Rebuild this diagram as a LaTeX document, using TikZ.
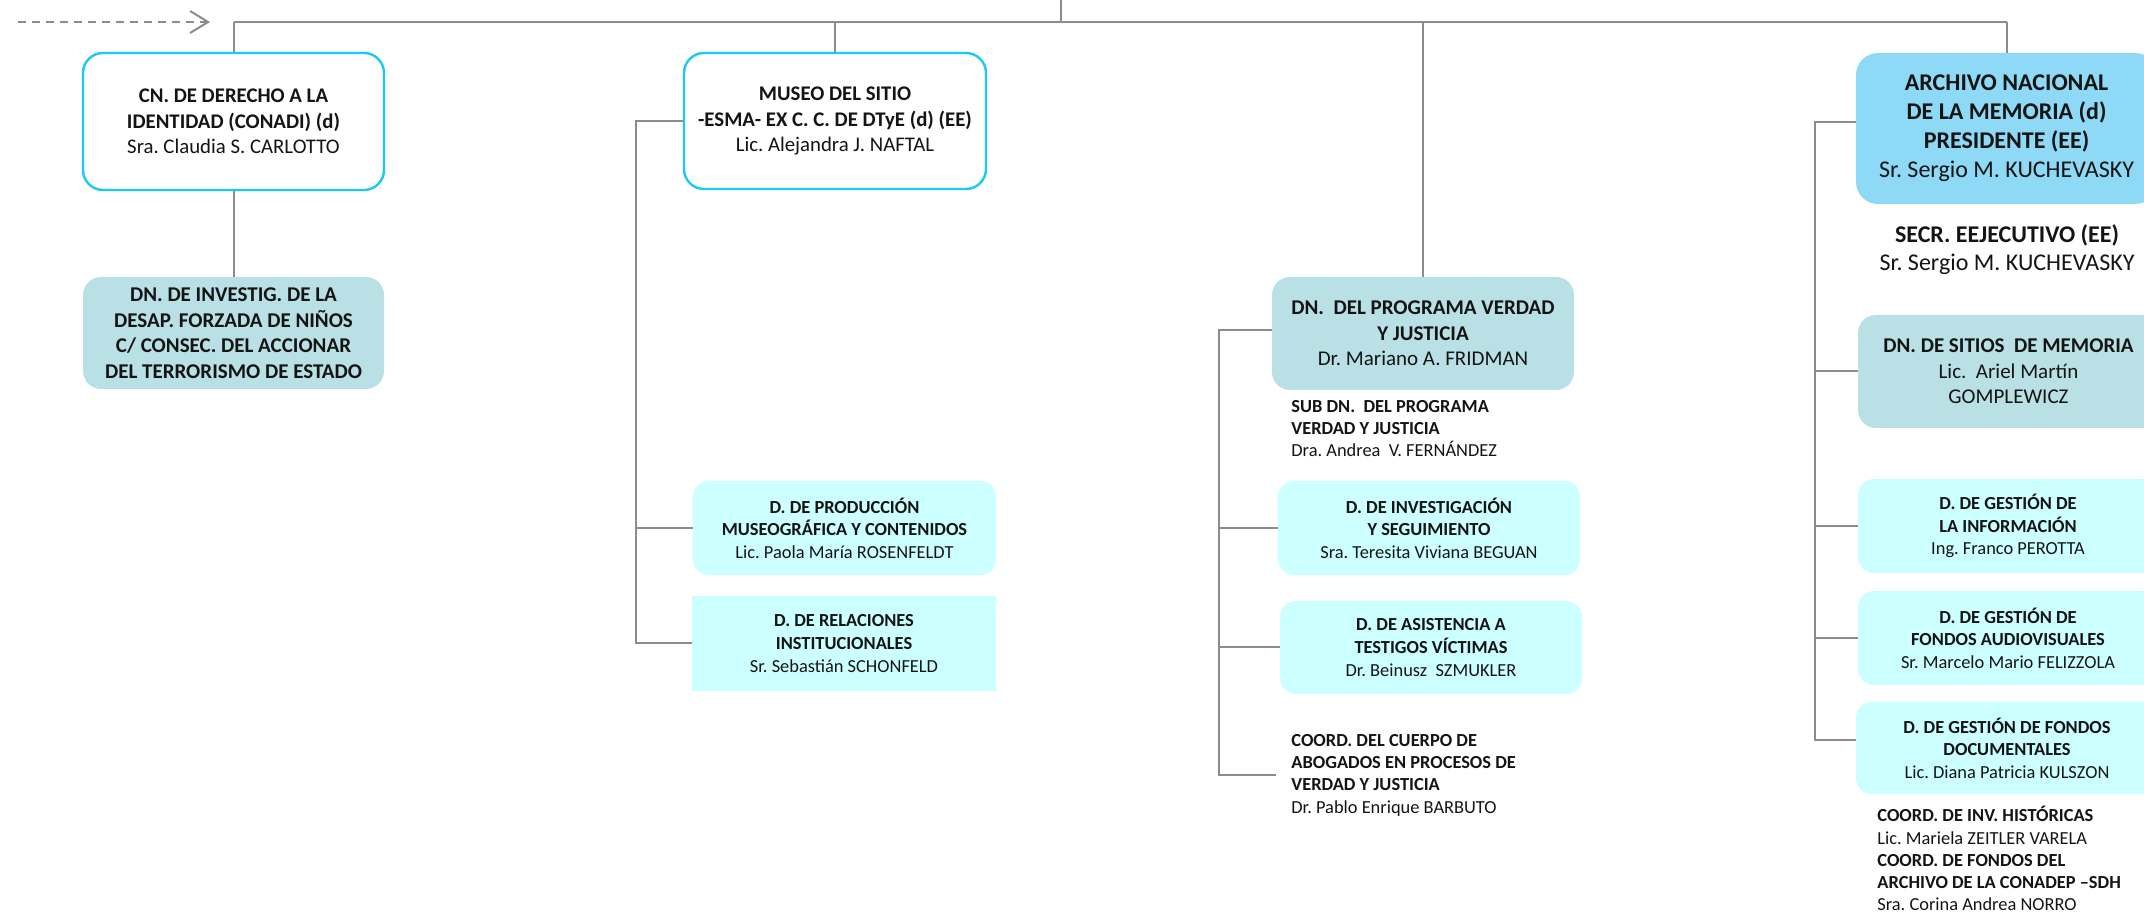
\documentclass[tikz,border=0pt]{standalone}
\usepackage{fontspec}
\setmainfont{Carlito}
\usetikzlibrary{arrows.meta,calc}
\definecolor{cyanborder}{HTML}{1CC8F4}
\definecolor{tealfill}{HTML}{B9E0E4}
\definecolor{lightfill}{HTML}{CCFFFF}
\definecolor{bluefill}{HTML}{8ED9F6}
\definecolor{linegray}{HTML}{8C8C8C}
\definecolor{txt}{HTML}{141414}
\frenchspacing
\begin{document}
\begin{tikzpicture}[x=0.5pt,y=-0.5pt,
  sz/.style 2 args={minimum width=#1*0.5pt, minimum height=#2*0.5pt},
  anybox/.style={inner sep=0pt, align=center, text=txt},
  bigbox/.style={anybox, draw=cyanborder, line width=1.2pt, fill=white, rounded corners=10pt, font=\fontsize{10.4}{12.8}\selectfont},
  tealbox/.style={anybox, fill=tealfill, rounded corners=9pt, font=\fontsize{10.5}{12.8}\selectfont},
  lightbox/.style={anybox, fill=lightfill, rounded corners=8pt, font=\fontsize{9.2}{11.3}\selectfont},
  lightsq/.style={anybox, fill=lightfill, font=\fontsize{9.2}{11.3}\selectfont},
  bluebox/.style={anybox, fill=bluefill, rounded corners=11pt, font=\fontsize{12}{14.5}\selectfont},
  freetext/.style={inner ysep=0pt, inner xsep=0pt, align=left, text=txt, font=\fontsize{9.2}{11.1}\selectfont},
  conn/.style={draw=linegray, line width=1pt},
  dasharrow/.style={draw=linegray, line width=1pt, dash pattern=on 4pt off 3pt, -{Straight Barb[length=9pt,width=11pt,line width=1pt]}}
]
\useasboundingbox (0,0) rectangle (2144,913);

% ---- column 1
\node[bigbox, sz={301}{137}] (conadi) at (233.5,121.5)
  {\textbf{CN. DE DERECHO A LA}\\\textbf{IDENTIDAD (CONADI) (d)}\\Sra. Claudia S. CARLOTTO};
\node[tealbox, sz={301}{112}] (desap) at (233.5,333)
  {\textbf{DN. DE INVESTIG. DE LA}\\\textbf{DESAP. FORZADA DE NIÑOS}\\\textbf{C/ CONSEC. DEL ACCIONAR}\\\textbf{DEL TERRORISMO DE ESTADO}};

% ---- column 2
\node[bigbox, sz={302}{136}] (museo) at (835,121)
  {\textbf{MUSEO DEL SITIO}\\\textbf{-ESMA- EX C. C. DE DTyE (d) (EE)}\\Lic. Alejandra J. NAFTAL};
\node[lightbox, sz={303}{94}] (produccion) at (844.5,528)
  {\textbf{D. DE PRODUCCIÓN}\\\textbf{MUSEOGRÁFICA Y CONTENIDOS}\\Lic. Paola María ROSENFELDT};
\node[lightsq, sz={304}{95}] (relaciones) at (844,643.5)
  {\textbf{D. DE RELACIONES}\\\textbf{INSTITUCIONALES}\\Sr. Sebastián SCHONFELD};

% ---- column 3
\node[tealbox, sz={302}{113}] (verdad) at (1423,333.5)
  {\textbf{DN.~ DEL PROGRAMA VERDAD}\\\textbf{Y JUSTICIA}\\Dr. Mariano A. FRIDMAN};
\node[freetext, anchor=north west] (subdn) at (1291,400)
  {\textbf{SUB DN.~ DEL PROGRAMA}\\\textbf{VERDAD Y JUSTICIA}\\Dra. Andrea~ V. FERNÁNDEZ};
\node[lightbox, sz={302}{94}] (investigacion) at (1429,528)
  {\textbf{D. DE INVESTIGACIÓN}\\\textbf{Y SEGUIMIENTO}\\Sra. Teresita Viviana BEGUAN};
\node[lightbox, sz={302}{93}] (asistencia) at (1431,647.5)
  {\textbf{D. DE ASISTENCIA A}\\\textbf{TESTIGOS VÍCTIMAS}\\Dr. Beinusz~ SZMUKLER};
\node[freetext, inner xsep=7.5pt, anchor=north west] (coordv) at (1276,734)
  {\textbf{COORD. DEL CUERPO DE}\\\textbf{ABOGADOS EN PROCESOS DE}\\\textbf{VERDAD Y JUSTICIA}\\Dr. Pablo Enrique BARBUTO};

% ---- column 4
\node[bluebox, sz={301}{151}] (archivo) at (2006.5,128.5)
  {\textbf{ARCHIVO NACIONAL}\\\textbf{DE LA MEMORIA (d)}\\\textbf{PRESIDENTE (EE)}\\Sr. Sergio M. KUCHEVASKY};
\node[inner sep=0pt, align=center, text=txt, font=\fontsize{12}{14}\selectfont, anchor=north] (secr) at (2007,224)
  {\textbf{SECR. EEJECUTIVO (EE)}\\Sr. Sergio M. KUCHEVASKY};
\node[tealbox, sz={301}{113}] (sitios) at (2008.5,371.5)
  {\textbf{DN. DE SITIOS~ DE MEMORIA}\\Lic.~ Ariel Martín\\GOMPLEWICZ};
\node[lightbox, sz={300}{94}] (info) at (2008,526)
  {\textbf{D. DE GESTIÓN DE}\\\textbf{LA INFORMACIÓN}\\Ing. Franco PEROTTA};
\node[lightbox, sz={300}{94}] (audio) at (2008,638)
  {\textbf{D. DE GESTIÓN DE}\\\textbf{FONDOS AUDIOVISUALES}\\Sr. Marcelo Mario FELIZZOLA};
\node[lightbox, sz={302}{92}] (docs) at (2007,748)
  {\textbf{D. DE GESTIÓN DE FONDOS}\\\textbf{DOCUMENTALES}\\Lic. Diana Patricia KULSZON};
\node[freetext, anchor=north west] (coorda) at (1877,806)
  {\textbf{COORD. DE INV. HISTÓRICAS}\\Lic. Mariela ZEITLER VARELA\\\textbf{COORD. DE FONDOS DEL}\\\textbf{ARCHIVO DE LA CONADEP –SDH}\\Sra. Corina Andrea NORRO};

% ---- connectors
\coordinate (root) at (1061,0);
\coordinate (bus) at (1061,22);
\coordinate (mbus) at (636,0);
\coordinate (vbus) at (1219,0);
\coordinate (abus) at (1815,0);
\coordinate (dstart) at (18,22);
\coordinate (dend) at (210,22);

\draw[conn] (conadi.north |- bus) -- (archivo.north |- bus);
\draw[conn] (root) -- (bus);
\draw[conn] (conadi.north |- bus) -- (conadi.north);
\draw[conn] (museo.north |- bus) -- (museo.north);
\draw[conn] (verdad.north |- bus) -- (verdad.north);
\draw[conn] (archivo.north |- bus) -- (archivo.north);
\draw[conn] (conadi.south) -- (desap.north);

\draw[conn] (museo.west) -- (museo.west -| mbus) -- (relaciones.west -| mbus) -- (relaciones.west);
\draw[conn] (produccion.west -| mbus) -- (produccion.west);

\draw[conn] ([yshift=1.5pt]verdad.west) -- ([yshift=1.5pt]verdad.west -| vbus) -- (coordv.west -| vbus) -- (coordv.west);
\draw[conn] (investigacion.west -| vbus) -- (investigacion.west);
\draw[conn] (asistencia.west -| vbus) -- (asistencia.west);

\draw[conn] ([yshift=3pt]archivo.west) -- ([yshift=3pt]archivo.west -| abus) -- ([yshift=4pt]docs.west -| abus) -- ([yshift=4pt]docs.west);
\draw[conn] (sitios.west -| abus) -- (sitios.west);
\draw[conn] (info.west -| abus) -- (info.west);
\draw[conn] (audio.west -| abus) -- (audio.west);

\draw[dasharrow] (dstart) -- (dend);
\end{tikzpicture}
\end{document}
